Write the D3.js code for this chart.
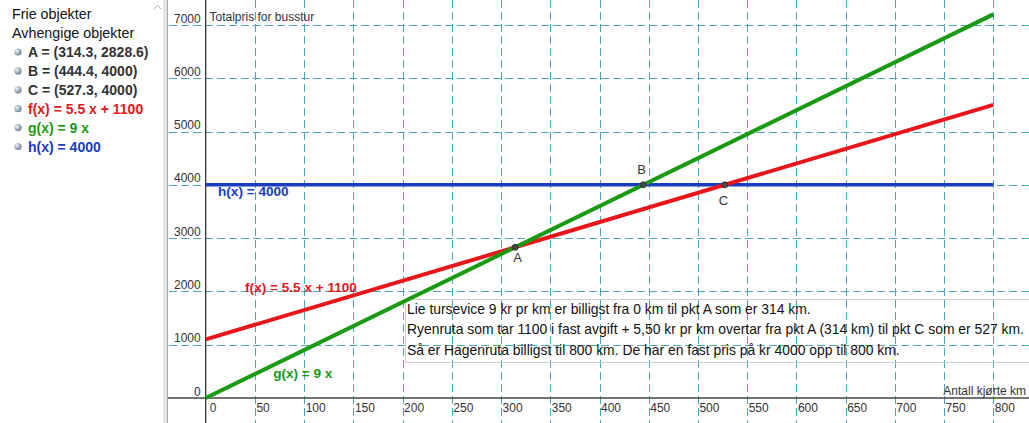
<!DOCTYPE html>
<html><head><meta charset="utf-8">
<script src="https://cdn.jsdelivr.net/npm/d3@7"></script>
<style>
html,body{margin:0;padding:0;background:#fff;}
svg{display:block;font-family:"Liberation Sans",Arial,sans-serif;}
</style></head>
<body>
<svg id="chart" width="1029" height="423"></svg>
<script>
// ---- data ----
const xTicks = [0,50,100,150,200,250,300,350,400,450,500,550,600,650,700,750,800];
const yTicks = [0,1000,2000,3000,4000,5000,6000,7000];
const fLine = [[0,1100],[800,5500]];
const gLine = [[0,0],[800,7200]];
const hLine = [[0,4000],[800,4000]];
const points = [
  {name:"A", x:314.3, y:2828.6, dx:-2, dy:15},
  {name:"B", x:444.4, y:4000, dx:-6, dy:-11},
  {name:"C", x:527.3, y:4000, dx:-6, dy:20}
];
const algebraHeaders = ["Frie objekter","Avhengige objekter"];
const algebraItems = [
  {text:"A = (314.3, 2828.6)", color:"#333333"},
  {text:"B = (444.4, 4000)", color:"#333333"},
  {text:"C = (527.3, 4000)", color:"#333333"},
  {text:"f(x) = 5.5 x + 1100", color:"#e8161a"},
  {text:"g(x) = 9 x", color:"#1a9a12"},
  {text:"h(x) = 4000", color:"#1a3cc0"}
];
const noteLines = [
  "Lie tursevice 9 kr pr km er billigst fra 0 km til pkt A som er 314 km.",
  "Ryenruta som tar 1100 i fast avgift + 5,50 kr pr km overtar fra pkt A (314 km) til pkt C som er 527 km.",
  "Så er Hagenruta billigst til 800 km. De har en fast pris på kr 4000 opp til 800 km."
];
const xTitle = "Antall kjørte km";
const yTitle = "Totalpris for busstur";

// ---- styles ----
const RED = "#e8161a", GREEN = "#1a9a12", BLUE = "#1a3cc0", GRID = "#4aa8b8";

const svg = d3.select("#chart");
const W = 1029, H = 423, plotLeft = 168;
const x = d3.scaleLinear().domain([0,800]).range([205.7, 993.3]);
const y = d3.scaleLinear().domain([0,7000]).range([398, 25]);

// left panel
const panel = svg.append("g");
panel.append("rect").attr("x",163).attr("y",0).attr("width",5).attr("height",H).attr("fill","#e4e4e4");
panel.append("line").attr("x1",167.5).attr("x2",167.5).attr("y1",0).attr("y2",H).attr("stroke","#a8a8a8");
panel.append("path").attr("d","M154,9 L157.5,5 L161,9").attr("fill","none").attr("stroke","#b0b0b0").attr("stroke-width",1);
panel.selectAll("text.hdr").data(algebraHeaders).join("text")
  .attr("class","hdr").attr("x",12).attr("y",(d,i)=>19+i*19)
  .attr("font-size",14.3).attr("fill","#111").text(d=>d);
const grad = svg.append("defs").append("radialGradient").attr("id","ball").attr("cx","35%").attr("cy","35%").attr("r","65%");
grad.append("stop").attr("offset","0%").attr("stop-color","#f0f4f8");
grad.append("stop").attr("offset","100%").attr("stop-color","#6f8396");
const items = panel.selectAll("g.item").data(algebraItems).join("g").attr("class","item")
  .attr("transform",(d,i)=>`translate(0,${57+i*18.9})`);
items.append("circle").attr("cx",18).attr("cy",-5).attr("r",3.6).attr("fill","url(#ball)");
items.append("text").attr("x",28).attr("y",0).attr("font-size",14).attr("font-weight","bold")
  .attr("fill",d=>d.color).text(d=>d.text);

// grid
const grid = svg.append("g").attr("stroke",GRID).attr("stroke-width",1).attr("stroke-dasharray","8,4");
grid.selectAll("line.v").data(xTicks.filter(d=>d!==0)).join("line")
  .attr("x1",d=>Math.round(x(d))+0.5).attr("x2",d=>Math.round(x(d))+0.5).attr("y1",0).attr("y2",H);
grid.selectAll("line.h").data(yTicks.filter(d=>d!==0)).join("line")
  .attr("x1",plotLeft+1).attr("x2",W).attr("y1",d=>Math.round(y(d))+0.5).attr("y2",d=>Math.round(y(d))+0.5);

// axes
svg.append("line").attr("x1",plotLeft).attr("x2",W).attr("y1",398).attr("y2",398).attr("stroke","#444").attr("stroke-width",1.5);
svg.append("line").attr("x1",x(0)).attr("x2",x(0)).attr("y1",0).attr("y2",H).attr("stroke","#222").attr("stroke-width",1.2);
svg.append("g").selectAll("text").data(xTicks).join("text")
  .attr("x",d=>x(d)+(d===0?4:1.5)).attr("y",y(0)+14).attr("font-size",12).attr("fill","#333").text(d=>d);
svg.append("g").selectAll("text").data(yTicks).join("text")
  .attr("x",x(0)-5).attr("y",d=>y(d)-2.5).attr("text-anchor","end").attr("font-size",12).attr("fill","#333").text(d=>d);
svg.append("text").attr("x",209.5).attr("y",21).attr("font-size",12).attr("fill","#333").text(yTitle);
svg.append("text").attr("x",1026).attr("y",395).attr("text-anchor","end").attr("font-size",12).attr("fill","#333").text(xTitle);

// note box
svg.append("rect").attr("x",405.5).attr("y",299.5).attr("width",630).attr("height",63).attr("fill","none").attr("stroke","#cfcfcf");
svg.append("g").selectAll("text").data(noteLines).join("text")
  .attr("x",407).attr("y",(d,i)=>313.5+i*20.5).attr("font-size",13.9).attr("fill","#111").text(d=>d);

// function lines
const line = d3.line().x(d=>x(d[0])).y(d=>y(d[1]));
[[hLine,BLUE,3.5],[fLine,RED,4],[gLine,GREEN,4]].forEach(([data,c,w])=>{
  svg.append("path").datum(data).attr("d",line).attr("fill","none").attr("stroke",c).attr("stroke-width",w).attr("stroke-linecap","butt");
});

// function labels
const fnLabels = [
  {text:"h(x) = 4000", color:BLUE, xv:12.5, yv:4000, dy:11},
  {text:"f(x) = 5.5 x + 1100", color:RED, xv:40, yv:2000, dy:1},
  {text:"g(x) = 9 x", color:GREEN, xv:68.5, yv:0, dy:-20}
];
svg.append("g").selectAll("text").data(fnLabels).join("text")
  .attr("x",d=>x(d.xv)).attr("y",d=>y(d.yv)+d.dy).attr("font-size",13.6).attr("font-weight","bold")
  .attr("fill",d=>d.color).text(d=>d.text);

// points
const pts = svg.append("g");
pts.selectAll("circle").data(points).join("circle")
  .attr("cx",d=>x(d.x)).attr("cy",d=>y(d.y)).attr("r",3).attr("fill","#4a4a4a").attr("stroke","#222").attr("stroke-width",0.8);
pts.selectAll("text").data(points).join("text")
  .attr("x",d=>x(d.x)+d.dx).attr("y",d=>y(d.y)+d.dy).attr("font-size",13).attr("fill","#333").text(d=>d.name);
</script>
</body></html>
